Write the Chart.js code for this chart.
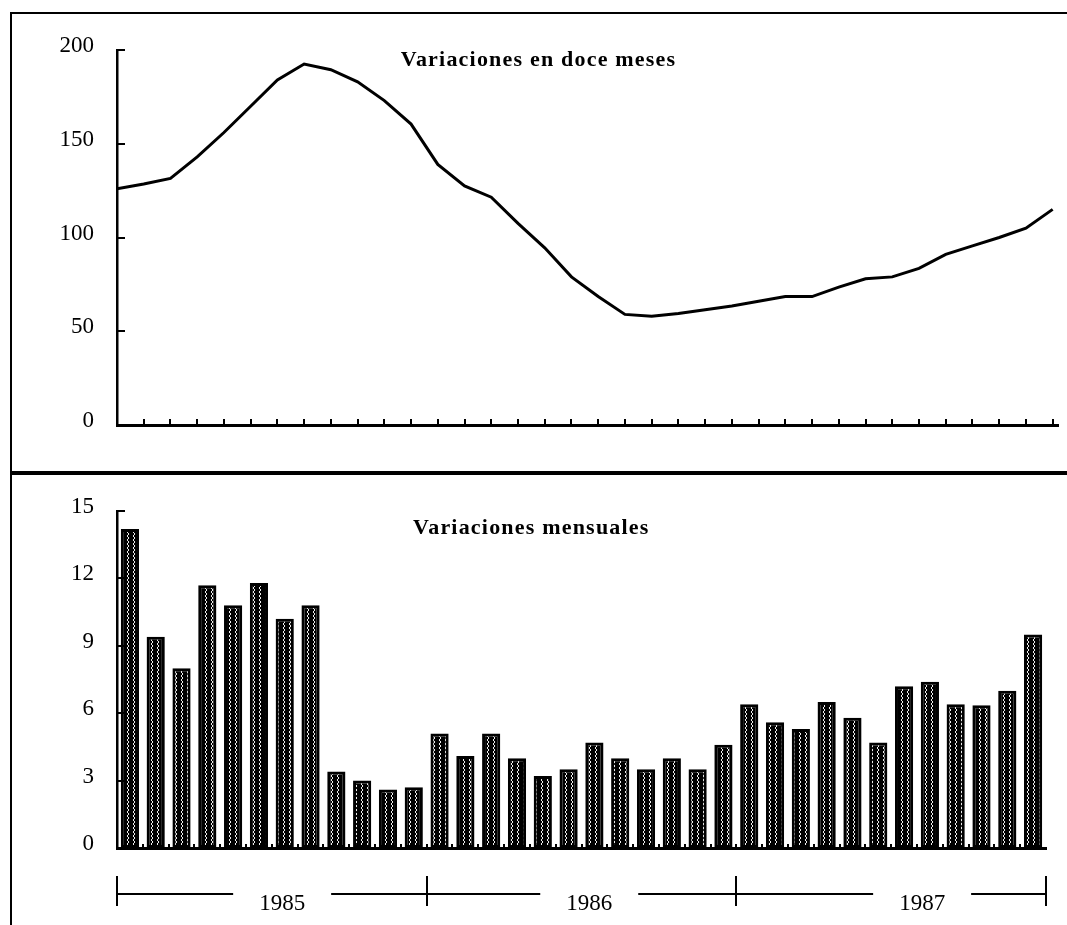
<!DOCTYPE html>
<html>
<head>
<meta charset="utf-8">
<script src="https://cdn.jsdelivr.net/npm/chart.js@4.4.1/dist/chart.umd.min.js"></script>
<style>
    html, body { margin: 0; padding: 0; background: #fff; overflow: hidden; }
    body { width: 1067px; height: 925px; position: relative; }
    canvas { position: absolute; left: 0; }
    #topChart { top: 0; }
    #bottomChart { top: 476px; }
    /* scanned frame lines */
    .frame-top { position: absolute; left: 10px; top: 12px; width: 1057px; height: 2px; background: #000; }
    .frame-left { position: absolute; left: 10px; top: 12px; width: 2px; height: 913px; background: #000; }
    .frame-mid { position: absolute; left: 10px; top: 471px; width: 1057px; height: 4px; background: #000; }
</style>
</head>
<body>
<div class="frame-top"></div>
<div class="frame-left"></div>
<div class="frame-mid"></div>
<canvas id="topChart" width="1067" height="470"></canvas>
<canvas id="bottomChart" width="1067" height="449"></canvas>
<script>
/* ---------- data ---------- */
const years = ['1985', '1986', '1987'];
const monthNames = ['Ene', 'Feb', 'Mar', 'Abr', 'May', 'Jun', 'Jul', 'Ago', 'Sep', 'Oct', 'Nov', 'Dic'];
const months = years.flatMap(y => monthNames.map(m => m + ' ' + y));

// Variaciones en doce meses (%)
const doceMeses = [126, 128.5, 131.5, 143, 156, 170, 184, 192.5, 189.5, 183, 173, 160.5,
    139, 127.5, 121.5, 107.5, 94.5, 79, 68.5, 59, 58, 59.5, 61.5, 63.5,
    66, 68.5, 68.5, 73.5, 78, 79, 83.5, 91, 95.5, 100, 105, 115];

// Variaciones mensuales (%)
const mensuales = [14.2, 9.4, 8.0, 11.7, 10.8, 11.8, 10.2, 10.8, 3.4, 3.0, 2.6, 2.7,
    5.1, 4.1, 5.1, 4.0, 3.2, 3.5, 4.7, 4.0, 3.5, 4.0, 3.5, 4.6,
    6.4, 5.6, 5.3, 6.5, 5.8, 4.7, 7.2, 7.4, 6.4, 6.35, 7.0, 9.5];

const topTicks = [0, 50, 100, 150, 200];
const bottomTicks = [0, 3, 6, 9, 12, 15];

/* ---------- shared bits ---------- */
const SERIF = '"Liberation Serif", "DejaVu Serif", serif';
Chart.defaults.color = '#000';
Chart.defaults.font.family = SERIF;

// ticks drawn inward, like the original
const inTicks = {
    id: 'inTicks',
    afterDatasetsDraw(chart, args, opts) {
        const { ctx, chartArea: a, scales: { x, y } } = chart;
        ctx.save();
        ctx.strokeStyle = '#000';
        ctx.lineWidth = 2;
        ctx.beginPath();
        y.ticks.forEach(t => {
            const py = Math.round(y.getPixelForValue(t.value));
            ctx.moveTo(a.left, py); ctx.lineTo(a.left + opts.yLen, py);
        });
        opts.xMarks.forEach(v => {
            const px = Math.round(x.getPixelForValue(v));
            ctx.moveTo(px, a.bottom); ctx.lineTo(px, a.bottom - opts.xLen);
        });
        ctx.stroke();
        ctx.restore();
    }
};

const panelTitle = {
    id: 'panelTitle',
    afterDraw(chart, args, opts) {
        const { ctx, chartArea: a } = chart;
        ctx.save();
        ctx.font = 'bold 22px ' + SERIF;
        ctx.letterSpacing = '1.2px';
        ctx.fillStyle = '#000';
        ctx.textAlign = 'center';
        ctx.textBaseline = 'middle';
        ctx.fillText(opts.text, a.left + a.width * opts.cx, a.top + opts.dy);
        ctx.restore();
    }
};

// year brackets under the monthly bars
const yearAxis = {
    id: 'yearAxis',
    afterDraw(chart, args, opts) {
        const { ctx, chartArea: a, scales: { x } } = chart;
        const ly = a.bottom + 46;
        ctx.save();
        ctx.strokeStyle = '#000';
        ctx.lineWidth = 2;
        ctx.font = '23px ' + SERIF;
        ctx.fillStyle = '#000';
        ctx.textAlign = 'center';
        ctx.textBaseline = 'middle';
        ctx.beginPath();
        years.forEach((yr, k) => {
            const x0 = x.getPixelForValue(k * 12 - 0.5);
            const x1 = x.getPixelForValue(k * 12 + 11.5);
            const cx = x.getPixelForValue(opts.labelAt[k]);
            const half = ctx.measureText(yr).width / 2 + 26;
            ctx.moveTo(x0, ly); ctx.lineTo(cx - half, ly);
            ctx.moveTo(cx + half, ly); ctx.lineTo(x1, ly);
            ctx.fillText(yr, cx, ly + 10);
        });
        for (let k = 0; k <= years.length; k++) {
            const px = Math.round(x.getPixelForValue(k * 12 - 0.5));
            ctx.moveTo(px, ly - 18); ctx.lineTo(px, ly + 12);
        }
        ctx.stroke();
        ctx.restore();
    }
};

// dark fill with light zigzag, like the scanned hatching
function barPattern() {
    const c = document.createElement('canvas');
    c.width = 6; c.height = 4;
    const g = c.getContext('2d');
    g.fillStyle = '#000';
    g.fillRect(0, 0, 6, 4);
    g.strokeStyle = '#eee';
    g.lineWidth = 1;
    g.beginPath();
    g.moveTo(1, 0); g.lineTo(3, 2); g.lineTo(1, 4);
    g.stroke();
    return g.createPattern(c, 'repeat');
}

const yAxisBase = (ticks) => ({
    min: ticks[0], max: ticks[ticks.length - 1],
    afterFit(s) { s.width = 117; },
    afterBuildTicks(s) { s.ticks = ticks.map(v => ({ value: v })); },
    grid: { display: false },
    border: { display: true, color: '#000', width: 2.5 },
    ticks: { padding: 15, labelOffset: -4, font: { size: 23 }, color: '#000' }
});

/* ---------- top: variaciones en doce meses ---------- */
new Chart(document.getElementById('topChart'), {
    type: 'line',
    data: {
        datasets: [{
            data: doceMeses.map((v, i) => ({ x: i, y: v })),
            borderColor: '#000', borderWidth: 3, pointRadius: 0, tension: 0, fill: false
        }]
    },
    options: {
        responsive: false, animation: false,
        layout: { padding: { left: 0, top: 50, right: 9, bottom: 37 } },
        plugins: {
            legend: { display: false }, tooltip: { enabled: false },
            inTicks: { yLen: 8, xLen: 6, xMarks: months.map((m, i) => i).slice(1) },
            panelTitle: { text: 'Variaciones en doce meses', cx: 0.448, dy: 10 }
        },
        scales: {
            x: {
                type: 'linear', min: 0, max: 35.2,
                grid: { display: false },
                ticks: { display: false },
                border: { display: true, color: '#000', width: 3 }
            },
            y: yAxisBase(topTicks)
        }
    },
    plugins: [inTicks, panelTitle]
});

/* ---------- bottom: variaciones mensuales ---------- */
new Chart(document.getElementById('bottomChart'), {
    type: 'bar',
    data: {
        labels: months,
        datasets: [{
            data: mensuales,
            backgroundColor: barPattern(),
            borderColor: '#000', borderWidth: 3, borderSkipped: false,
            categoryPercentage: 0.82, barPercentage: 0.86
        }]
    },
    options: {
        responsive: false, animation: false,
        layout: { padding: { left: 0, top: 35, right: 21, bottom: 69 } },
        plugins: {
            legend: { display: false }, tooltip: { enabled: false },
            inTicks: { yLen: 8, xLen: 4, xMarks: months.map((m, i) => i + 0.5).slice(0, -1) },
            panelTitle: { text: 'Variaciones mensuales', cx: 0.446, dy: 17 },
            yearAxis: { labelAt: [5.9, 17.8, 30.7] }
        },
        scales: {
            x: {
                grid: { display: false },
                ticks: { display: false },
                border: { display: true, color: '#000', width: 3 }
            },
            y: yAxisBase(bottomTicks)
        }
    },
    plugins: [inTicks, panelTitle, yearAxis]
});
</script>
</body>
</html>
